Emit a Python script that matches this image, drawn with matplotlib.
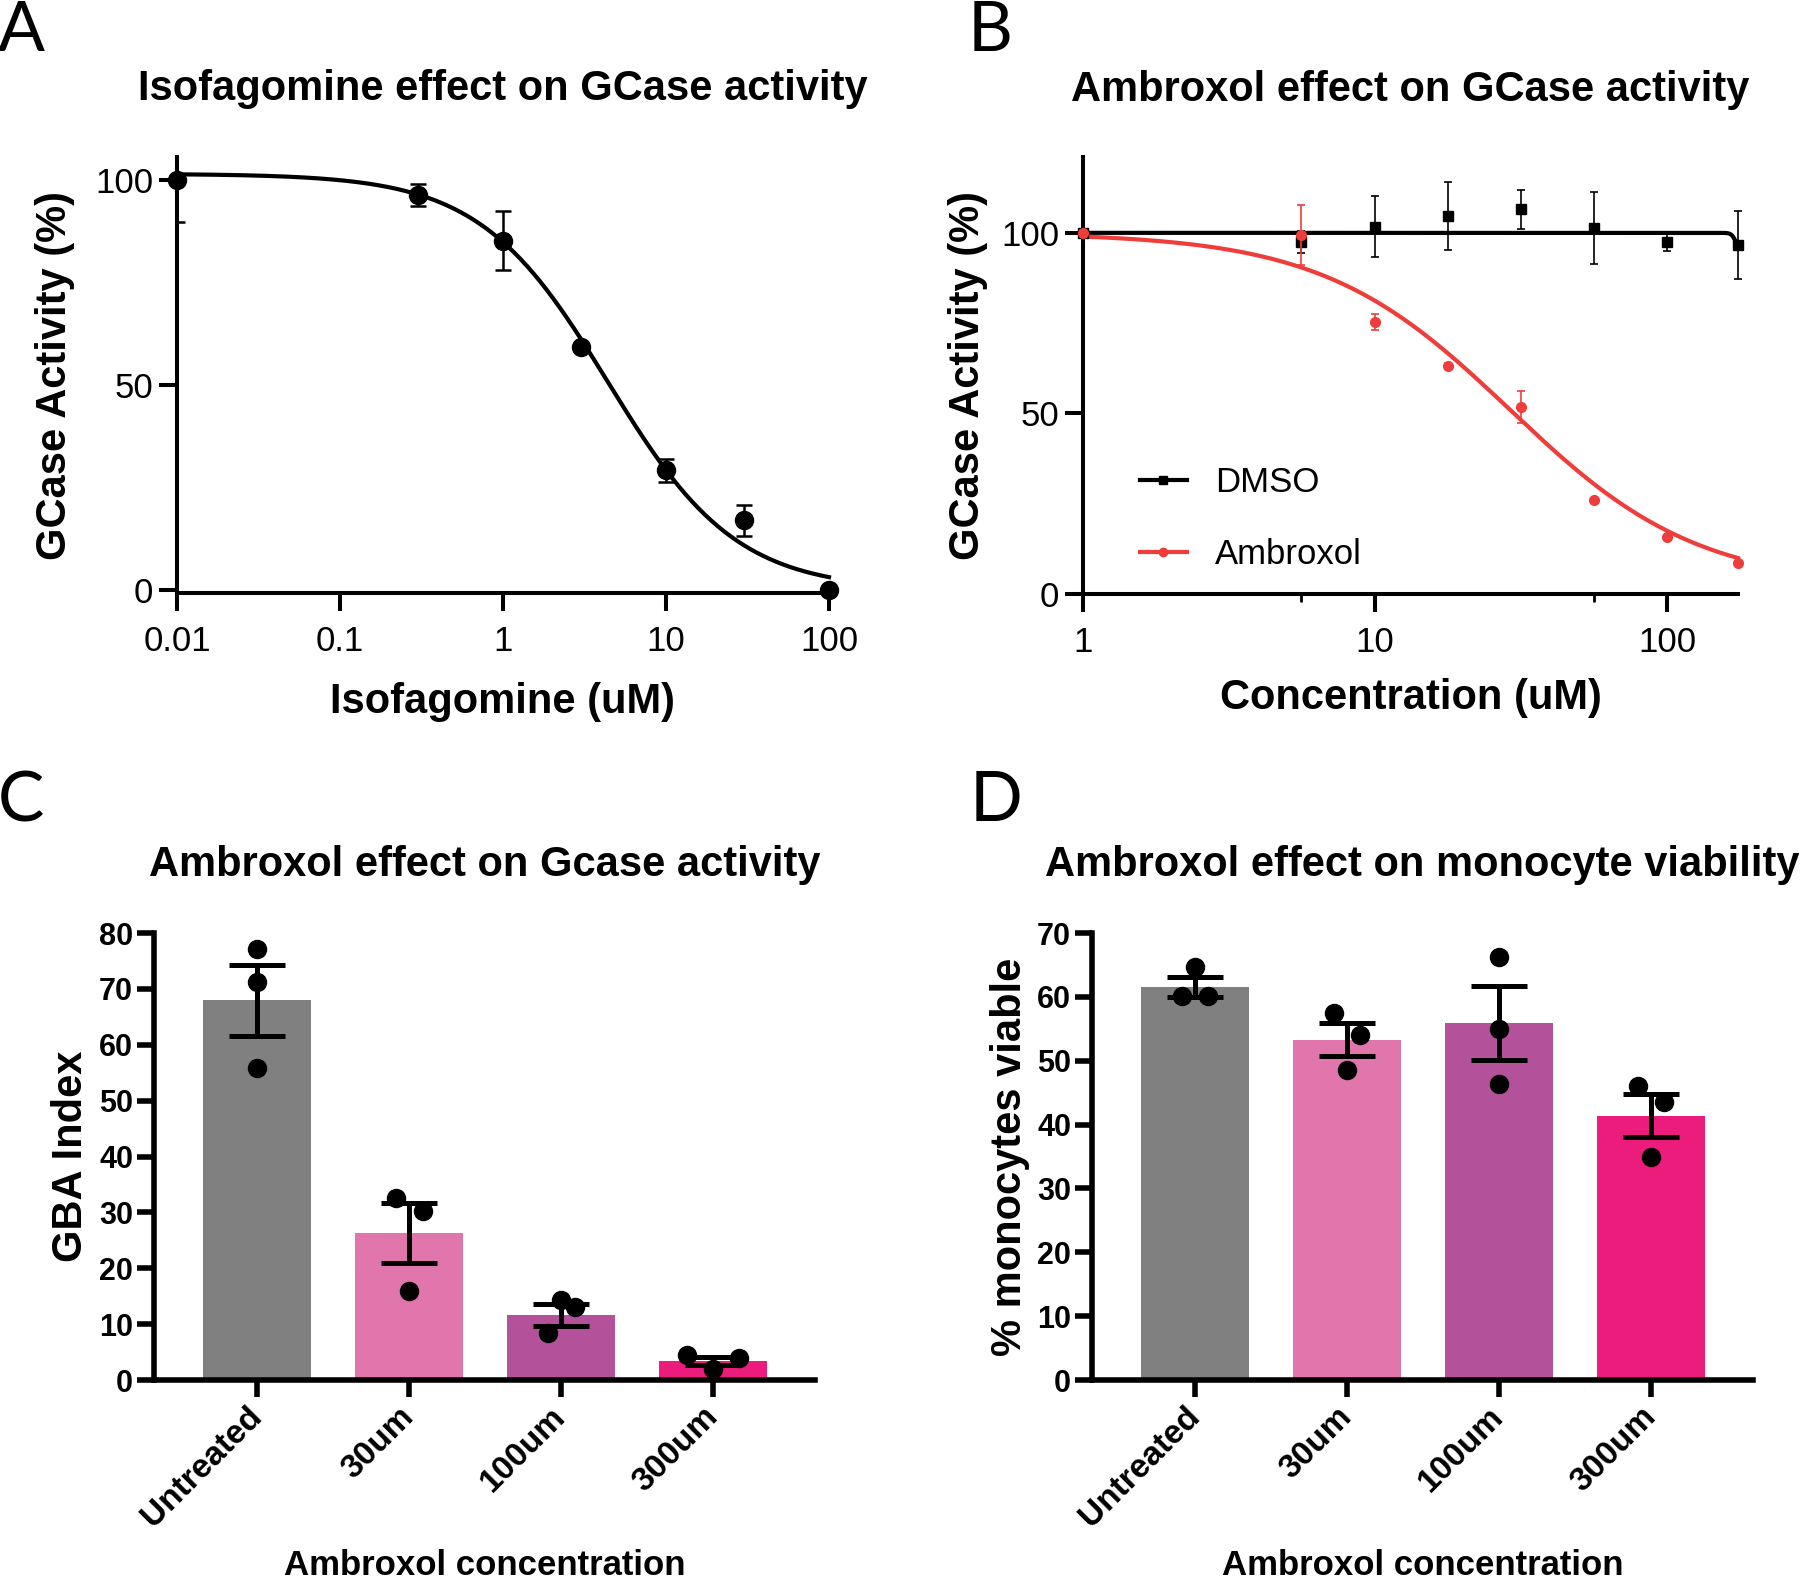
import numpy as np
import matplotlib
matplotlib.use("Agg")
import matplotlib.pyplot as plt

plt.rcParams['font.family'] = ['Liberation Sans', 'DejaVu Sans']

# ---------------- Data ----------------
# Panel A: Isofagomine dose response
iso_conc = [0.01, 0.3, 1, 3, 10, 30, 100]
iso_act = [100, 96.3, 85.2, 59.2, 29.2, 17.0, 0.0]
iso_err = [10.3, 2.7, 7.2, 0.0, 2.8, 3.8, 0.0]
iso_fit = dict(top=101.5, bottom=0.0, ic50=4.4, hill=1.1)
iso_xticks = [0.01, 0.1, 1, 10, 100]
iso_xticklabels = ["0.01", "0.1", "1", "10", "100"]

# Panel B: Ambroxol vs DMSO
b_conc = [1, 5.6, 10, 17.8, 31.6, 56.2, 100, 175]
dmso_act = [100, 97.4, 101.7, 104.7, 106.5, 101.3, 97.5, 96.7]
dmso_err = [0, 3.0, 8.5, 9.4, 5.3, 9.9, 2.5, 9.4]
amb_act = [100, 99.4, 75.4, 63.2, 51.7, 26.0, 15.8, 8.7]
amb_err = [0, 8.3, 2.2, 0.8, 4.4, 0.6, 0.6, 0.5]
dmso_fit = dict(top=100.0, bottom=95.0, ic50=172.0, hill=60.0)
amb_fit = dict(top=100.0, bottom=2.0, ic50=29.0, hill=1.35)
b_minor_ticks = [5.6, 56.2]

# Panel C & D: bar charts
groups = ["Untreated", "30um", "100um", "300um"]
gba_mean = [68.0, 26.3, 11.7, 3.4]
gba_sem = [6.35, 5.3, 1.95, 0.7]
gba_reps = [[77.2, 71.3, 55.9], [32.6, 30.3, 15.9], [14.3, 13.1, 8.4], [4.5, 4.0, 2.0]]
via_mean = [61.6, 53.3, 55.9, 41.4]
via_sem = [1.55, 2.6, 5.8, 3.4]
via_reps = [[64.7, 60.2, 60.2], [57.4, 54.1, 48.5], [66.3, 55.0, 46.4], [46.1, 43.6, 35.0]]

bar_colors = ["#808080", "#e176ad", "#b4519b", "#ec1c7c"]
amb_red = "#ee3d3a"


def four_pl(x, top, bottom, ic50, hill):
    return bottom + (top - bottom) / (1.0 + (x / ic50) ** hill)


W, H = 1800, 1581
fig = plt.figure(figsize=(W / 100, H / 100), dpi=100)


def px_axes(l, t, r, b):
    return fig.add_axes([l / W, 1 - b / H, (r - l) / W, (b - t) / H])


# ---------------- Panel A ----------------
axA = px_axes(177, 157, 829, 593)
xs = np.logspace(np.log10(iso_conc[0]), np.log10(iso_conc[-1]), 400)
axA.plot(xs, four_pl(xs, **iso_fit), color='black', lw=3.0, zorder=3, clip_on=False)
axA.errorbar(iso_conc, iso_act, yerr=iso_err, fmt='none', ecolor='black',
             elinewidth=1.8, capsize=6, capthick=1.8, zorder=4, clip_on=True)
axA.plot(iso_conc, iso_act, 'o', color='black', ms=13, zorder=5, clip_on=False)
axA.set_xscale('log')
axA.set_xlim(0.01, 100)
axA.set_ylim(-0.7, 105.6)
axA.set_xticks(iso_xticks)
axA.set_xticklabels(iso_xticklabels)
axA.xaxis.set_minor_locator(matplotlib.ticker.NullLocator())
axA.set_yticks([0, 50, 100])
axA.set_title("Isofagomine effect on GCase activity", fontsize=30, fontweight='bold', pad=41)
axA.set_xlabel("Isofagomine (uM)", fontsize=30, fontweight='bold')
axA.set_ylabel("GCase Activity (%)", fontsize=30, fontweight='bold')
axA.xaxis.label.set_va('center')
axA.yaxis.label.set_va('center')
axA.xaxis.set_label_coords(0.5, -0.249)
axA.yaxis.set_label_coords(-0.187, 0.5)

# ---------------- Panel B ----------------
axB = px_axes(1083, 157, 1738, 594)
xb = np.logspace(0, np.log10(b_conc[-1]), 600)
axB.plot(xb, four_pl(xb, **dmso_fit), color='black', lw=3.0, zorder=3, clip_on=False)
axB.plot(xb, four_pl(xb, **amb_fit), color=amb_red, lw=3.0, zorder=3, clip_on=False)
axB.errorbar(b_conc, dmso_act, yerr=dmso_err, fmt='s', color='black', ms=6.5,
             elinewidth=1.2, capsize=3, capthick=1.2, zorder=4, clip_on=False)
axB.errorbar(b_conc, amb_act, yerr=amb_err, fmt='o', color=amb_red, ms=7,
             elinewidth=1.2, capsize=3, capthick=1.2, zorder=5, clip_on=False)
axB.plot([], [], '-s', color='black', lw=3, ms=6, label='DMSO')
axB.plot([], [], '-o', color=amb_red, lw=3, ms=6, label='Ambroxol')
axB.set_xscale('log')
axB.set_xlim(1, b_conc[-1])
axB.set_ylim(0, 121)
axB.set_xticks([1, 10, 100])
axB.set_xticklabels(["1", "10", "100"])
axB.xaxis.set_minor_locator(matplotlib.ticker.FixedLocator(b_minor_ticks))
axB.xaxis.set_minor_formatter(matplotlib.ticker.NullFormatter())
axB.set_yticks([0, 50, 100])
axB.set_title("Ambroxol effect on GCase activity", fontsize=30, fontweight='bold', pad=40)
axB.set_xlabel("Concentration (uM)", fontsize=30, fontweight='bold')
axB.set_ylabel("GCase Activity (%)", fontsize=30, fontweight='bold')
axB.xaxis.label.set_va('center')
axB.yaxis.label.set_va('center')
axB.xaxis.set_label_coords(0.5, -0.238)
axB.yaxis.set_label_coords(-0.176, 0.5)
h, l = axB.get_legend_handles_labels()
axB.legend(h[-2:], l[-2:], loc='upper left', bbox_to_anchor=(0.087, 0.292), frameon=False,
           fontsize=25, handlelength=1.35, handletextpad=0.8, labelspacing=1.12,
           borderpad=0, borderaxespad=0)

for ax in (axA, axB):
    for s in ('top', 'right'):
        ax.spines[s].set_visible(False)
    for s in ('left', 'bottom'):
        ax.spines[s].set_linewidth(2.9)
    ax.tick_params(axis='both', which='major', length=13, width=2.9, labelsize=25, direction='out')
    ax.tick_params(axis='y', pad=4)
    ax.tick_params(axis='x', pad=10)
axB.tick_params(axis='x', which='minor', length=6, width=2.0, direction='out')

# ---------------- Panels C & D ----------------
offsets = {
    0: [[0, 0, 0], [-0.09, 0.09, 0], [0, 0.09, -0.09], [-0.17, 0.17, 0]],
    1: [[0, -0.086, 0.086], [-0.086, 0.086, 0], [0, 0, 0], [-0.086, 0.086, 0]],
}


def bar_panel(ax, means, sems, reps, offs, ymax, title, ylabel, ylabx):
    x = np.arange(len(groups))
    ax.bar(x, means, width=0.71, color=bar_colors, zorder=1)
    ax.errorbar(x, means, yerr=sems, fmt='none', ecolor='black', elinewidth=3.6,
                capsize=20, capthick=3.6, zorder=3)
    for i, r in enumerate(reps):
        ax.plot(x[i] + np.array(offs[i]), r, 'o', color='black', ms=13, zorder=4,
                clip_on=False)
    ax.set_xlim(-0.68, 3.67)
    ax.set_ylim(0, ymax)
    ax.set_yticks(np.arange(0, ymax + 1, 10))
    ax.set_xticks(x)
    ax.set_xticklabels(groups, rotation=45, ha='right', va='center', rotation_mode='anchor',
                       fontweight='bold', fontsize=24)
    for t in ax.get_yticklabels():
        t.set_fontweight('bold')
    for s in ('top', 'right'):
        ax.spines[s].set_visible(False)
    for s in ('left', 'bottom'):
        ax.spines[s].set_linewidth(4.0)
    ax.tick_params(axis='both', length=12, width=4.0, labelsize=22, direction='out')
    ax.tick_params(axis='x', labelsize=24, pad=11)
    ax.tick_params(axis='y', pad=3)
    ax.set_title(title, fontsize=30, fontweight='bold', pad=41)
    ax.set_xlabel("Ambroxol concentration", fontsize=25, fontweight='bold')
    ax.set_ylabel(ylabel, fontsize=30, fontweight='bold')
    ax.xaxis.label.set_va('center')
    ax.yaxis.label.set_va('center')
    ax.xaxis.set_label_coords(0.5, -0.416)
    ax.yaxis.set_label_coords(ylabx, 0.5)


axC = px_axes(154, 933, 815, 1380)
bar_panel(axC, gba_mean, gba_sem, gba_reps, offsets[0], 80,
          "Ambroxol effect on Gcase activity", "GBA Index", -0.1256)
axD = px_axes(1092, 933, 1753, 1380)
bar_panel(axD, via_mean, via_sem, via_reps, offsets[1], 70,
          "Ambroxol effect on monocyte viability", "% monocytes viable", -0.124)

# Panel letters
letter_kw = dict(fontsize=50, family=['Lato', 'DejaVu Sans'], fontweight='normal', va='top', ha='left')
fig.text(-2 / W, 1 - 0 / H, "A", **letter_kw)
fig.text(968 / W, 1 - 0 / H, "B", **letter_kw)
fig.text(-2 / W, 1 - 770 / H, "C", **letter_kw)
fig.text(970 / W, 1 - 770 / H, "D", **letter_kw)

fig.savefig("out.png", dpi=100)
